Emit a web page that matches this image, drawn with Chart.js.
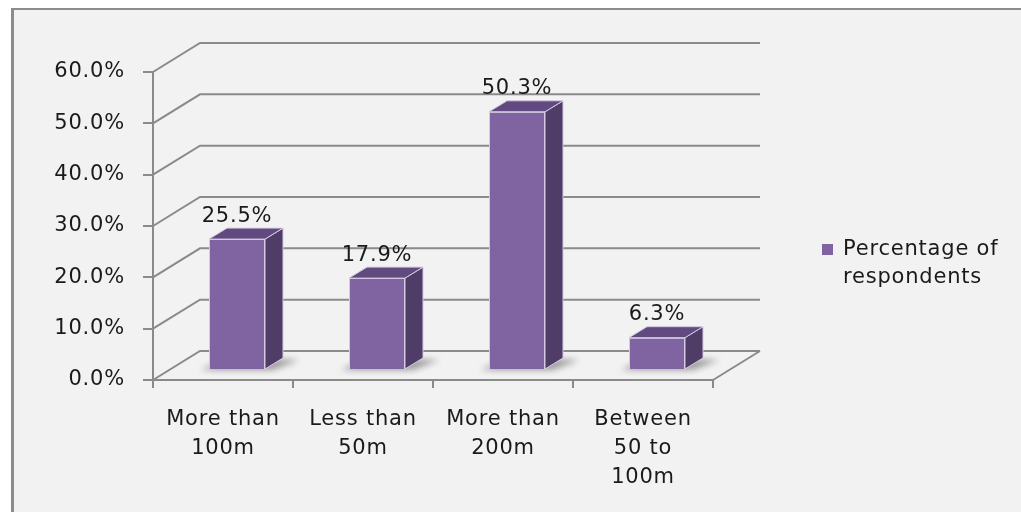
<!DOCTYPE html>
<html>
<head>
<meta charset="utf-8">
<script src="https://cdn.jsdelivr.net/npm/chart.js@4/dist/chart.umd.min.js"></script>
<style>
  html, body { margin: 0; padding: 0; background: #ffffff; width: 1021px; height: 512px; overflow: hidden; }
  #frame { position: absolute; left: 11px; top: 8px; width: 1040px; height: 530px;
           background: #f2f2f2; border-left: 3px solid #8c8c8c; border-top: 2px solid #8c8c8c; }
  #wrap { position: absolute; left: 0; top: 0; width: 1021px; height: 512px; }
</style>
</head>
<body>
<div id="frame"></div>
<div id="wrap"><canvas id="chart" width="1021" height="512"></canvas></div>
<script>
// Distance to the nearest facility, share of respondents
const categories = [["More than", "100m"], ["Less than", "50m"], ["More than", "200m"], ["Between", "50 to", "100m"]];
const seriesName = "Percentage of respondents";
const percentages = [25.5, 17.9, 50.3, 6.3];
const axisMin = 0;
const axisMax = 60;
const axisStep = 10;

const FONT = "'DejaVu Sans', sans-serif";
const FONT_SIZE = 21;
const LETTER_SPACING = "0.8px";
const TEXT_COLOR = "#1a1a1a";
const LINE_COLOR = "#8a8a8a";
const FACE_FRONT = "#8064a2";
const FACE_SIDE = "#4f3d67";
const FACE_TOP = "#604a80";
const FACE_EDGE = "#d4cae2";

// Perspective offsets of the pseudo-3D box
const WALL_DEPTH = { x: 47, y: -29 };  // front plane -> back wall
const BAR_SHIFT = { x: 14, y: -10 };   // front plane -> bar front faces
const BAR_DEPTH = { x: 18, y: -11 };   // bar front face -> bar back face

const fmtPct = v => Number(v).toFixed(1) + "%";

// Slightly wider text tracking for every label on the canvas
const textTracking = {
  id: "textTracking",
  beforeDraw(chart) { chart.ctx.letterSpacing = LETTER_SPACING; }
};

// Back wall, side wall and floor, plus the bars' extra faces
const box3d = {
  id: "box3d",
  beforeDatasetsDraw(chart) {
    const { ctx, chartArea: a, scales: { y } } = chart;
    ctx.save();
    ctx.strokeStyle = LINE_COLOR;
    ctx.lineWidth = 2;
    ctx.lineJoin = "miter";
    y.ticks.forEach(t => {
      const py = y.getPixelForValue(t.value);
      ctx.beginPath();
      ctx.moveTo(a.left, py);
      ctx.lineTo(a.left + WALL_DEPTH.x, py + WALL_DEPTH.y);
      ctx.lineTo(a.right + WALL_DEPTH.x, py + WALL_DEPTH.y);
      ctx.stroke();
    });
    ctx.beginPath();
    ctx.moveTo(a.right, a.bottom);
    ctx.lineTo(a.right + WALL_DEPTH.x, a.bottom + WALL_DEPTH.y);
    ctx.stroke();

    // soft floor shadows behind each bar
    const meta = chart.getDatasetMeta(0);
    meta.data.forEach(bar => {
      const L = bar.x - bar.width / 2 + BAR_SHIFT.x;
      const R = bar.x + bar.width / 2 + BAR_SHIFT.x;
      const B = bar.base + BAR_SHIFT.y;
      ctx.save();
      ctx.filter = "blur(3px)";
      ctx.fillStyle = "rgba(50,50,50,0.45)";
      ctx.beginPath();
      ctx.moveTo(L - 8, B + 1);
      ctx.lineTo(R + 8, B + 1);
      ctx.lineTo(R + BAR_DEPTH.x + 16, B + BAR_DEPTH.y + 2);
      ctx.lineTo(L + BAR_DEPTH.x, B + BAR_DEPTH.y);
      ctx.closePath();
      ctx.fill();
      ctx.restore();
    });

    ctx.save();
    ctx.translate(BAR_SHIFT.x, BAR_SHIFT.y);
  },
  afterDatasetDraw(chart, args) {
    const { ctx } = chart;
    args.meta.data.forEach(bar => {
      const L = bar.x - bar.width / 2;
      const R = bar.x + bar.width / 2;
      const T = bar.y;
      const B = bar.base;
      ctx.save();
      ctx.lineWidth = 1;
      ctx.strokeStyle = FACE_EDGE;
      ctx.lineJoin = "round";
      // right side face
      ctx.fillStyle = FACE_SIDE;
      ctx.beginPath();
      ctx.moveTo(R, T);
      ctx.lineTo(R + BAR_DEPTH.x, T + BAR_DEPTH.y);
      ctx.lineTo(R + BAR_DEPTH.x, B + BAR_DEPTH.y);
      ctx.lineTo(R, B);
      ctx.closePath();
      ctx.fill();
      ctx.stroke();
      // top face
      ctx.fillStyle = FACE_TOP;
      ctx.beginPath();
      ctx.moveTo(L, T);
      ctx.lineTo(L + BAR_DEPTH.x, T + BAR_DEPTH.y);
      ctx.lineTo(R + BAR_DEPTH.x, T + BAR_DEPTH.y);
      ctx.lineTo(R, T);
      ctx.closePath();
      ctx.fill();
      ctx.stroke();
      ctx.restore();
    });
  },
  afterDatasetsDraw(chart) {
    const { ctx } = chart;
    ctx.restore();
    // value labels above the bars
    const meta = chart.getDatasetMeta(0);
    ctx.save();
    ctx.font = FONT_SIZE + "px " + FONT;
    ctx.fillStyle = TEXT_COLOR;
    ctx.textAlign = "center";
    ctx.textBaseline = "middle";
    meta.data.forEach((bar, i) => {
      const v = chart.data.datasets[0].data[i];
      ctx.fillText(fmtPct(v), bar.x + BAR_SHIFT.x, bar.y + BAR_SHIFT.y - 23);
    });
    ctx.restore();
  }
};

// Legend on the right, with the series name wrapped on two lines
const sideLegend = {
  id: "sideLegend",
  afterDraw(chart) {
    const { ctx, chartArea: a } = chart;
    const ds = chart.data.datasets[0];
    const x = a.right + 109;
    const y = 250;
    ctx.save();
    ctx.fillStyle = ds.backgroundColor;
    ctx.fillRect(x, y - 6, 11, 11);
    ctx.font = FONT_SIZE + "px " + FONT;
    ctx.fillStyle = TEXT_COLOR;
    ctx.textAlign = "left";
    ctx.textBaseline = "middle";
    const words = ds.label.split(" ");
    ctx.fillText(words.slice(0, 2).join(" "), x + 21, y);
    ctx.fillText(words.slice(2).join(" "), x + 21, y + 28);
    ctx.restore();
  }
};

new Chart(document.getElementById("chart"), {
  type: "bar",
  data: {
    labels: categories,
    datasets: [{
      label: seriesName,
      data: percentages,
      backgroundColor: FACE_FRONT,
      borderColor: FACE_EDGE,
      borderWidth: 1,
      categoryPercentage: 1,
      barPercentage: 0.4,
      clip: false
    }]
  },
  options: {
    responsive: false,
    devicePixelRatio: 1,
    animation: false,
    layout: { padding: { left: 0, top: 72, right: 308, bottom: 0 } },
    plugins: { legend: { display: false }, tooltip: { enabled: false } },
    scales: {
      x: {
        afterFit: s => { s.height = 132; },
        grid: { display: true, offset: true, drawOnChartArea: false, drawTicks: true, tickLength: 8, color: LINE_COLOR, lineWidth: 2 },
        border: { display: true, color: LINE_COLOR, width: 2 },
        ticks: { color: TEXT_COLOR, font: { family: FONT, size: FONT_SIZE, lineHeight: 1.38 }, padding: 17, maxRotation: 0, autoSkip: false }
      },
      y: {
        min: axisMin,
        max: axisMax,
        afterFit: s => { s.width = 153; },
        grid: { display: true, drawOnChartArea: false, drawTicks: true, tickLength: 10, color: LINE_COLOR, lineWidth: 2 },
        border: { display: true, color: LINE_COLOR, width: 2 },
        ticks: { stepSize: axisStep, color: TEXT_COLOR, font: { family: FONT, size: FONT_SIZE }, padding: 18, callback: v => fmtPct(v) }
      }
    }
  },
  plugins: [textTracking, box3d, sideLegend]
});
</script>
</body>
</html>
